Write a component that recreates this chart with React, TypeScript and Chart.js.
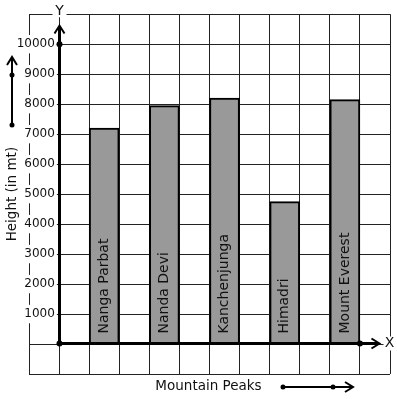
import React, { useEffect, useRef } from 'react';
import { Chart, registerables } from 'chart.js';

Chart.register(...registerables);

// ---- data ----
const peaks = ['Nanga Parbat', 'Nanda Devi', 'Kanchenjunga', 'Himadri', 'Mount Everest'];
const heights = [7200, 7950, 8200, 4750, 8150];
const peakPositions = [1.5, 3.5, 5.5, 7.5, 9.5];
const yTickLabels = [1000, 2000, 3000, 4000, 5000, 6000, 7000, 8000, 9000, 10000];
const xAxisTitle = 'Mountain Peaks';
const yAxisTitle = 'Height (in mt)';
const xAxisName = 'X';
const yAxisName = 'Y';

const FONT = '"DejaVu Sans", sans-serif';

function dot(ctx: CanvasRenderingContext2D, x: number, y: number, r = 2.5) {
  ctx.beginPath();
  ctx.arc(x, y, r, 0, Math.PI * 2);
  ctx.fill();
}

function head(ctx: CanvasRenderingContext2D, tx: number, ty: number, dx: number, dy: number, len = 8, half = 5) {
  const px = -dy, py = dx;
  ctx.beginPath();
  ctx.moveTo(tx - dx * len + px * half, ty - dy * len + py * half);
  ctx.lineTo(tx, ty);
  ctx.lineTo(tx - dx * len - px * half, ty - dy * len - py * half);
  ctx.stroke();
}

const decorPlugin = {
  id: 'decor',
  afterDatasetsDraw(chart: any) {
    const ctx: CanvasRenderingContext2D = chart.ctx;
    const xs = chart.scales.x;
    const ys = chart.scales.y;
    const area = chart.chartArea;
    const ox = Math.round(xs.getPixelForValue(0)) + 0.5;
    const oy = Math.round(ys.getPixelForValue(0)) - 0.5;
    ctx.save();

    // labels inside bars
    const meta = chart.getDatasetMeta(0);
    ctx.font = `14px ${FONT}`;
    ctx.fillStyle = '#111';
    ctx.textAlign = 'left';
    ctx.textBaseline = 'middle';
    meta.data.forEach((el: any, i: number) => {
      ctx.save();
      ctx.translate(el.x, el.base - 10);
      ctx.rotate(-Math.PI / 2);
      ctx.fillText(peaks[i], 0, 0);
      ctx.restore();
    });

    // thick axis rays
    ctx.strokeStyle = '#000';
    ctx.fillStyle = '#000';
    ctx.lineCap = 'butt';
    ctx.lineWidth = 3;
    const yTip = ys.getPixelForValue(10620);
    const xTip = xs.getPixelForValue(10.65);
    ctx.beginPath();
    ctx.moveTo(ox, oy + 1.5);
    ctx.lineTo(ox, yTip + 1);
    ctx.stroke();
    ctx.beginPath();
    ctx.moveTo(ox - 1.5, oy);
    ctx.lineTo(xTip - 1, oy);
    ctx.stroke();
    ctx.lineWidth = 2;
    head(ctx, ox, yTip, 0, -1, 8, 5);
    head(ctx, xTip, oy, 1, 0, 8, 5);
    dot(ctx, ox, oy, 3);
    dot(ctx, ox, ys.getPixelForValue(10000), 3);
    dot(ctx, xs.getPixelForValue(10), oy, 3);

    // axis names with white backdrop
    ctx.font = `14px ${FONT}`;
    ctx.textAlign = 'center';
    ctx.textBaseline = 'middle';
    const yNameY = area.top - 3;
    ctx.fillStyle = '#fff';
    ctx.fillRect(ox - 7, yNameY - 8, 14, 14);
    ctx.fillStyle = '#111';
    ctx.fillText(yAxisName, ox, yNameY);
    const xNameX = area.right - 0.5;
    ctx.fillStyle = '#fff';
    ctx.fillRect(xNameX - 6, oy - 7, 12, 14);
    ctx.fillStyle = '#111';
    ctx.fillText(xAxisName, xNameX, oy);

    // axis titles
    ctx.font = `13.5px ${FONT}`;
    const midY = (area.top + area.bottom) / 2;
    ctx.save();
    ctx.translate(area.left - 17, midY);
    ctx.rotate(-Math.PI / 2);
    ctx.fillText(yAxisTitle, 0, 0);
    ctx.restore();
    const midX = (area.left + area.right) / 2;
    ctx.fillText(xAxisTitle, midX - 1, area.bottom + 12);

    // decorative arrows
    ctx.fillStyle = '#000';
    ctx.lineWidth = 2;
    const lx = area.left - 17;
    ctx.beginPath();
    ctx.moveTo(lx, 125);
    ctx.lineTo(lx, 58);
    ctx.stroke();
    head(ctx, lx, 57, 0, -1, 8, 5);
    dot(ctx, lx, 125, 2.5);
    dot(ctx, lx, 75, 2.5);

    const by = area.bottom + 13;
    ctx.beginPath();
    ctx.moveTo(283, by);
    ctx.lineTo(352, by);
    ctx.stroke();
    head(ctx, 353, by, 1, 0, 8, 5);
    dot(ctx, 283, by, 2.5);
    dot(ctx, 333, by, 2.5);

    ctx.restore();
  },
};

export default function App() {
  const ref = useRef<HTMLCanvasElement | null>(null);

  useEffect(() => {
    document.body.style.margin = '0';
    if (!ref.current) return;
    const chart = new Chart(ref.current, {
      type: 'bar',
      data: {
        datasets: [
          {
            label: 'Height',
            data: peakPositions.map((x, i) => ({ x, y: heights[i] })),
            backgroundColor: '#999999',
            borderColor: '#000',
            borderWidth: { top: 2, left: 2, right: 2, bottom: 0 },
            borderSkipped: 'bottom',
            barPercentage: 1,
            categoryPercentage: 1,
          } as any,
        ],
      },
      options: {
        animation: false,
        responsive: false,
        maintainAspectRatio: false,
        layout: { padding: { left: 29, right: 7, top: 13, bottom: 25 } },
        plugins: { legend: { display: false }, tooltip: { enabled: false }, title: { display: false } },
        scales: {
          x: {
            type: 'linear',
            min: -1,
            max: 11,
            offset: false,
            position: 'bottom',
            ticks: { stepSize: 1, display: false },
            grid: { color: '#222', lineWidth: 1, drawTicks: false, offset: false },
            border: { display: false },
          },
          y: {
            type: 'linear',
            min: -1000,
            max: 11000,
            position: { x: -0.14 } as any,
            ticks: {
              stepSize: 1000,
              padding: 7,
              color: '#111',
              font: { family: FONT, size: 12 },
              callback: (v: any) => (yTickLabels.includes(Number(v)) ? String(v) : ''),
              showLabelBackdrop: true,
              backdropColor: (c: any) => (c.tick && yTickLabels.includes(c.tick.value) ? '#fff' : 'rgba(0,0,0,0)'),
              backdropPadding: 2,
            } as any,
            grid: { color: '#222', lineWidth: 1, drawTicks: false },
            border: { display: false },
          },
        },
      },
      plugins: [decorPlugin],
    });
    return () => chart.destroy();
  }, []);

  return (
    <div style={{ width: 397, height: 399, position: 'relative' }}>
      <canvas ref={ref} width={397} height={399} style={{ display: 'block' }} />
    </div>
  );
}
